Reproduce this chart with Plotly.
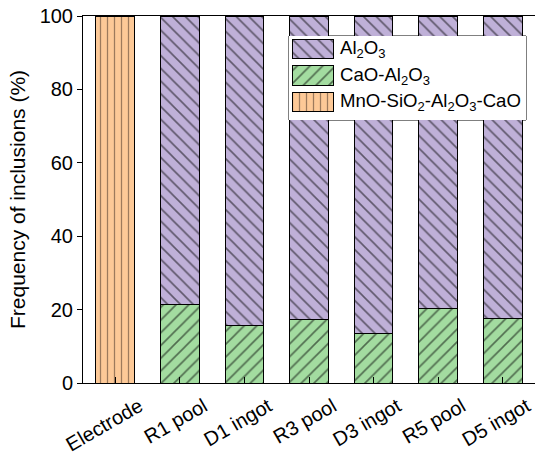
import plotly.graph_objects as go

# Inclusion type frequencies per sample (%)
categories = ["Electrode", "R1 pool", "D1 ingot", "R3 pool", "D3 ingot", "R5 pool", "D5 ingot"]
cao_al2o3 = [0, 21.5, 15.8, 17.4, 13.5, 20.4, 17.6]
al2o3 = [0, 78.5, 84.2, 82.6, 86.5, 79.6, 82.4]
mno_sio2 = [100, 0, 0, 0, 0, 0, 0]

series_names = ["Al<sub>2</sub>O<sub>3</sub>",
                "CaO-Al<sub>2</sub>O<sub>3</sub>",
                "MnO-SiO<sub>2</sub>-Al<sub>2</sub>O<sub>3</sub>-CaO"]

PURPLE = "#bfb0d8"
GREEN = "#a3dca0"
ORANGE = "#fdc997"
FONT = "Liberation Sans, Arial, sans-serif"

styles = {
    "al2o3": dict(color=PURPLE, pattern=dict(shape="\\", fgcolor="black", size=9, solidity=0.18)),
    "cao": dict(color=GREEN, pattern=dict(shape="/", fgcolor="black", size=9, solidity=0.18)),
    "mno": dict(color=ORANGE, pattern=dict(shape="|", fgcolor="#3e2c22", size=7, solidity=0.18)),
}
bar_line = dict(color="black", width=1)

fig = go.Figure()
fig.add_trace(go.Bar(x=categories, y=cao_al2o3, name=series_names[1],
                     marker=dict(line=bar_line, **styles["cao"]), width=0.6, showlegend=False))
fig.add_trace(go.Bar(x=categories, y=al2o3, name=series_names[0],
                     marker=dict(line=bar_line, **styles["al2o3"]), width=0.6, showlegend=False))
fig.add_trace(go.Bar(x=categories, y=mno_sio2, name=series_names[2],
                     marker=dict(line=bar_line, **styles["mno"]), width=0.6, showlegend=False))

# Legend: inset axes spanning the legend box, one swatch bar per row
legend_keys = ["al2o3", "cao", "mno"]
for row, key in enumerate(legend_keys):
    fig.add_trace(go.Bar(x=[41], y=[row], base=3, orientation="h", xaxis="x2", yaxis="y2",
                         width=0.74, showlegend=False, hoverinfo="skip",
                         marker=dict(line=bar_line, **styles[key])))

# Plot area geometry in pixels
W, H = 535, 458
L, R, T, B = 83, 0, 16, 75
pw, ph = W - L - R, H - T - B


def px(x):
    return (x - L) / pw


def py(y):
    return (H - B - y) / ph


box_l, box_r, box_top, box_bot = 289, 526, 36, 120
row_px = 26.5
first_row = 13.0

# White legend frame, drawn beneath the swatches but over the main bars
fig.add_shape(type="rect", xref="x2 domain", yref="y2 domain", x0=0, x1=1, y0=0, y1=1,
              line=dict(color="black", width=1), fillcolor="white", layer="below")

for row, name in enumerate(series_names):
    fig.add_annotation(text=name, xref="paper", yref="paper",
                       x=px(338), y=py(box_top + first_row + row * row_px),
                       xanchor="left", yanchor="middle", showarrow=False,
                       font=dict(size=18.6, color="black", family=FONT))

fig.update_layout(
    width=W, height=H,
    margin=dict(l=L, r=R, t=T, b=B),
    barmode="stack",
    plot_bgcolor="white", paper_bgcolor="white",
    font=dict(family=FONT, color="black"),
    xaxis=dict(range=[-0.5, 6.5], showline=True, linecolor="black", linewidth=1,
               mirror=True, ticks="inside", ticklen=6, tickcolor="black",
               tickangle=-30, tickfont=dict(size=20), ticklabelshift=24,
               ticklabelstandoff=3, showgrid=False),
    yaxis=dict(range=[0, 100], showline=True, linecolor="black", linewidth=1,
               ticks="outside", ticklen=5, tickcolor="black", dtick=20,
               tickfont=dict(size=20), showgrid=False, zeroline=False,
               title=dict(text="Frequency of inclusions (%)", font=dict(size=21), standoff=8)),
    xaxis2=dict(domain=[px(box_l), px(box_r)], anchor="y2", range=[0, box_r - box_l],
                visible=False, fixedrange=True),
    yaxis2=dict(domain=[py(box_bot), py(box_top)], anchor="x2",
                range=[(box_bot - box_top - first_row) / row_px, -first_row / row_px],
                visible=False, fixedrange=True),
)

fig.write_html("out.html")
